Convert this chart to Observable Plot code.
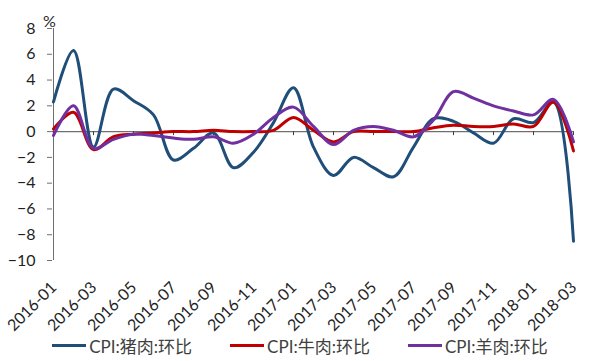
<!DOCTYPE html>
<html>
<head>
<meta charset="utf-8">
<script src="https://cdn.jsdelivr.net/npm/d3@7"></script>
<script src="https://cdn.jsdelivr.net/npm/@observablehq/plot@0.6"></script>
<style>
  html, body { margin: 0; padding: 0; background: #fff; }
  #chart { width: 600px; }
  .legend { display: flex; justify-content: center; align-items: center; gap: 38px; height: 26px; margin-top: -6px;
            position: relative; font-family: Lato, "Noto Sans CJK SC", sans-serif; font-size: 17px; color: #404040; }
  .legend .item { display: flex; align-items: center; }
  .legend .sw { display: inline-block; width: 34px; height: 3px; margin-right: 3px; }
</style>
</head>
<body>
<div id="chart"></div>
<script>
const months = ["2016-01","2016-02","2016-03","2016-04","2016-05","2016-06","2016-07","2016-08","2016-09","2016-10","2016-11","2016-12",
  "2017-01","2017-02","2017-03","2017-04","2017-05","2017-06","2017-07","2017-08","2017-09","2017-10","2017-11","2017-12",
  "2018-01","2018-02","2018-03"];
const seriesNames = ["CPI:猪肉:环比", "CPI:牛肉:环比", "CPI:羊肉:环比"];
const seriesColors = ["#1f4e79", "#c00000", "#7030a0"];
const pork = [2.3, 6.3, -1.2, 3.3, 2.4, 1.3, -2.2, -1.3, -0.1, -2.8, -1.6, 0.7, 3.4, -1.2, -3.4, -2.0, -2.8, -3.5, -1.2, 1.0, 0.8, -0.1, -0.9, 1.0, 0.7, 2.3, -8.5];
const beef = [0.2, 1.5, -1.4, -0.4, -0.2, -0.1, 0.0, 0.0, 0.1, 0.0, 0.0, 0.1, 1.1, 0.1, -0.8, 0.0, 0.0, 0.0, 0.0, 0.3, 0.5, 0.4, 0.4, 0.6, 0.4, 2.3, -1.5];
const lamb = [-0.3, 2.0, -1.3, -0.6, -0.2, -0.3, -0.5, -0.6, -0.4, -0.9, -0.2, 1.1, 1.9, 0.4, -1.0, 0.1, 0.4, 0.1, -0.4, 0.9, 3.1, 2.6, 2.0, 1.6, 1.3, 2.5, -0.8];
const yTicks = [-10, -8, -6, -4, -2, 0, 2, 4, 6, 8];
const xTickLabels = months.filter((m, i) => i % 2 === 0);

const allSeries = [pork, beef, lamb];
const rows = [];
allSeries.forEach((vals, s) => vals.forEach((v, i) => rows.push({series: seriesNames[s], month: months[i], value: v})));

const axisColor = "#6f6f6f";
const textColor = "#1f1f1f";

const chart = Plot.plot({
  width: 600,
  height: 338,
  marginLeft: 52,
  marginRight: 27,
  marginTop: 28,
  marginBottom: 78,
  style: {fontFamily: "Lato, sans-serif", fontSize: "16px", color: textColor, background: "#fff"},
  x: {type: "point", domain: months, padding: 0, axis: null},
  y: {domain: [-10, 8], axis: null},
  color: {domain: seriesNames, range: seriesColors},
  marks: [
    Plot.ruleX([months[0]], {y1: -10, y2: 8, stroke: axisColor, strokeWidth: 1}),
    Plot.axisY(yTicks, {tickSize: 5, tickPadding: 12, label: null, stroke: axisColor, fill: textColor, fontSize: 16}),
    Plot.ruleY([0], {stroke: axisColor, strokeWidth: 1.4}),
    Plot.ruleX(xTickLabels, {y1: 0, y2: 0, insetBottom: -4, stroke: "#404040", strokeWidth: 1}),
    Plot.line(rows, {x: "month", y: "value", z: "series", stroke: "series", curve: "catmull-rom", strokeWidth: 3}),
    Plot.text(xTickLabels, {x: d => d, frameAnchor: "bottom", rotate: -45, textAnchor: "end", dx: 4, dy: 28, fontSize: 16, fill: textColor}),
    Plot.text(["%"], {frameAnchor: "top-left", dx: -3, dy: -13, textAnchor: "middle", fontSize: 16, fill: textColor})
  ]
});
document.getElementById("chart").appendChild(chart);

const legend = document.createElement("div");
legend.className = "legend";
seriesNames.forEach((name, i) => {
  const item = document.createElement("div");
  item.className = "item";
  const sw = document.createElement("span");
  sw.className = "sw";
  sw.style.background = seriesColors[i];
  const t = document.createElement("span");
  t.textContent = name;
  item.appendChild(sw);
  item.appendChild(t);
  legend.appendChild(item);
});
document.getElementById("chart").appendChild(legend);
</script>
</body>
</html>
